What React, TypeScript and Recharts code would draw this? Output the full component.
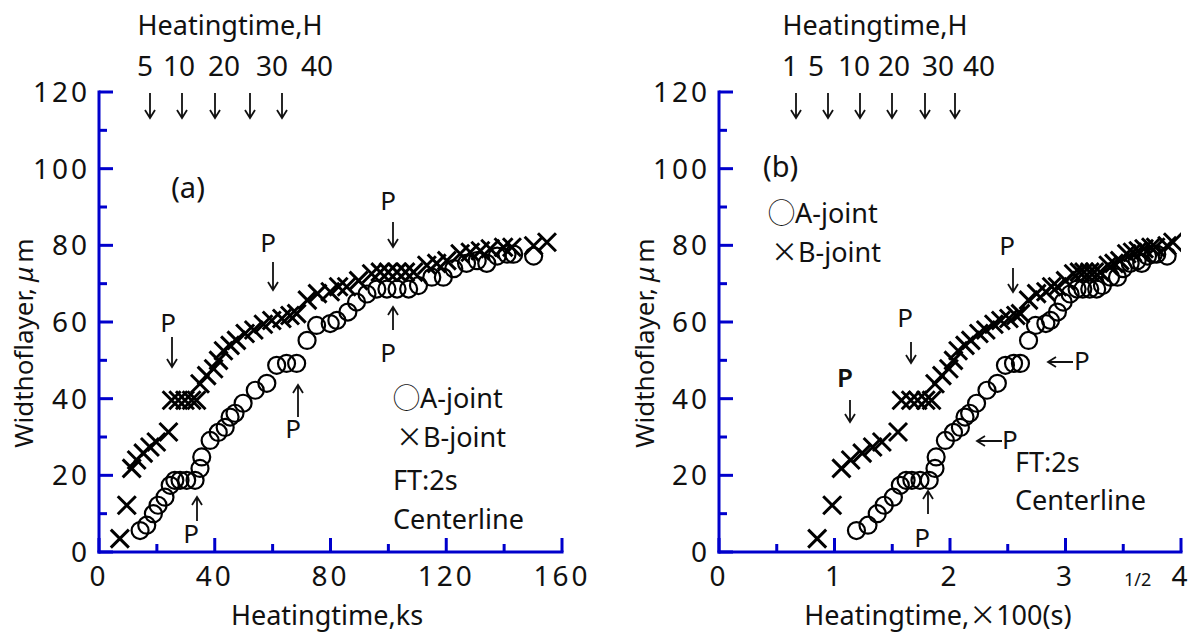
import React from "react";
import { ScatterChart, Scatter, XAxis, YAxis } from "recharts";

// A-joint (circles) and B-joint (crosses), heating time in ks, width in um
const aTimeKs = [
  14.2, 16.5, 18.8, 20.4, 22.8, 24.6, 26.2, 28, 30.3, 33.2, 34.9, 35.5, 38.4, 41.2, 43.6, 45.3, 47,
  49.8, 54, 58, 61.4, 64.8, 68.3, 71.9, 75.2, 79.9, 82.2, 86, 89, 92.6, 96, 99.5, 103, 107, 110.4,
  115, 119, 122.6, 127, 130.7, 134, 137.6, 141, 143.3, 150.2,
];
const aWidth = [
  5.6, 7, 10, 12.2, 14.3, 17.4, 18.7, 18.7, 18.7, 18.7, 21.8, 24.8, 29.1, 31.2, 32.5, 35.2, 36.2,
  38.8, 42.2, 44, 48.7, 49.2, 49.2, 55.2, 59.1, 59.6, 60.4, 62.6, 65.2, 67.3, 68.6, 68.6, 68.6, 68.6,
  69.5, 71.7, 71.7, 73.9, 75.3, 76, 75.3, 77.2, 77.7, 77.7, 77.2,
];
const bTimeKs = [
  7.2, 9.6, 11.3, 13, 15.3, 17.6, 19.8, 24, 25.1, 27.4, 29.7, 32, 33.7, 34.9, 37.2, 39.6, 41.3, 43,
  45.3, 47.5, 50.5, 53.5, 56.8, 59.7, 63.2, 66, 68.3, 72, 75.5, 79.9, 82.8, 85.6, 89.7, 94.2, 97.2,
  100, 103, 105.9, 108.7, 113.3, 116.7, 120.2, 124.8, 128.3, 131.8, 135.2, 139.8, 142.7, 150.2, 154.8,
];
const bWidth = [
  3.5, 12.2, 21.8, 24, 25.8, 27.4, 28.7, 31.3, 39.6, 39.6, 39.6, 39.6, 39.6, 43.9, 46, 47.8, 50,
  52.5, 53.9, 55.2, 57, 57.9, 59.4, 60.4, 60.9, 61.7, 62.2, 65.7, 67.4, 67.9, 69.2, 69.2, 70.8, 72.6,
  73, 73, 73, 73, 73, 74.8, 75.3, 76, 77.8, 78.2, 78.6, 79.1, 79.5, 79.5, 79.9, 80.8,
];

// same points on the square-root time axis, x100 s^1/2
const aTimeRoot = [
  1.19, 1.29, 1.37, 1.43, 1.51, 1.57, 1.62, 1.67, 1.74, 1.82, 1.87, 1.88, 1.96, 2.03, 2.09, 2.13,
  2.17, 2.23, 2.32, 2.41, 2.48, 2.55, 2.61, 2.68, 2.74, 2.83, 2.87, 2.93, 2.98, 3.04, 3.1, 3.15,
  3.21, 3.27, 3.32, 3.39, 3.45, 3.5, 3.56, 3.62, 3.66, 3.71, 3.76, 3.79, 3.88,
];
const bTimeRoot = [
  0.85, 0.98, 1.06, 1.14, 1.24, 1.33, 1.41, 1.55, 1.58, 1.66, 1.72, 1.79, 1.84, 1.87, 1.93, 1.99,
  2.03, 2.07, 2.13, 2.18, 2.25, 2.31, 2.38, 2.44, 2.51, 2.57, 2.61, 2.68, 2.75, 2.83, 2.88, 2.93,
  3.0, 3.07, 3.12, 3.16, 3.21, 3.25, 3.3, 3.37, 3.42, 3.47, 3.53, 3.58, 3.63, 3.68, 3.74, 3.78,
  3.88, 3.93,
];

const ksTicks = [0, 20, 40, 60, 80, 100, 120, 140, 160];
const rootTicks = [0, 0.5, 1, 1.5, 2, 2.5, 3, 3.5, 4];
const widthTicks = [0, 10, 20, 30, 40, 50, 60, 70, 80, 90, 100, 110, 120];
const hourLabelsA = ["5", "10", "20", "30", "40"];
const hourLabelsB = ["1", "5", "10", "20", "30", "40"];

const BLUE = "#0000cc";
const FONT = "'Noto Sans', 'Noto Sans CJK JP', sans-serif";
const CJK = "'Noto Sans CJK JP', 'Noto Sans', sans-serif";

const pts = (xs: number[], ys: number[]) => xs.map((x, i) => ({ x, y: ys[i] }));

const isMajor = (v: number, step: number) => Math.abs(v / step - Math.round(v / step)) < 1e-6;

const Ring = (p: any) => (
  <circle cx={p.cx} cy={p.cy} r={8.5} fill="none" stroke="#000" strokeWidth={2.2} />
);
const Cross = (p: any) => (
  <path
    d={`M${p.cx - 9},${p.cy - 9}L${p.cx + 9},${p.cy + 9}M${p.cx - 9},${p.cy + 9}L${p.cx + 9},${p.cy - 9}`}
    stroke="#000"
    strokeWidth={3}
  />
);

const bottomTick = (step: number) => (p: any) => {
  const v = p.payload.value;
  const major = isMajor(v, step);
  return (
    <g>
      <line x1={p.x} y1={p.y} x2={p.x} y2={p.y - (major ? 14 : 8)} stroke={BLUE} strokeWidth={3} />
      {major && (
        <text x={p.x} y={p.y + 34} textAnchor="middle" fontSize={28} fontFamily={FONT} letterSpacing={3} fill="#111">
          {v}
        </text>
      )}
    </g>
  );
};
const topTick = (step: number) => (p: any) => {
  const major = isMajor(p.payload.value, step);
  return <line x1={p.x} y1={p.y} x2={p.x} y2={p.y + (major ? 11 : 8)} stroke={BLUE} strokeWidth={3} />;
};
const leftTick = (p: any) => {
  const v = p.payload.value;
  const major = isMajor(v, 20);
  return (
    <g>
      <line x1={p.x} y1={p.y} x2={p.x + (major ? 14 : 8)} y2={p.y} stroke={BLUE} strokeWidth={3} />
      {major && (
        <text x={p.x - 9} y={p.y} dy="0.36em" textAnchor="end" fontSize={28} fontFamily={FONT} letterSpacing={3} fill="#111">
          {v}
        </text>
      )}
    </g>
  );
};
const rightTick = (p: any) => {
  const major = isMajor(p.payload.value, 20);
  return <line x1={p.x} y1={p.y} x2={p.x - (major ? 14 : 8)} y2={p.y} stroke={BLUE} strokeWidth={3} />;
};

const frame = { stroke: BLUE, strokeWidth: 3, strokeLinecap: "square" as const };

const Panel = ({
  width,
  yWidth,
  right,
  xTicks,
  xMax,
  xStep,
  a,
  b,
}: {
  width: number;
  yWidth: number;
  right: number;
  xTicks: number[];
  xMax: number;
  xStep: number;
  a: { x: number; y: number }[];
  b: { x: number; y: number }[];
}) => (
  <ScatterChart width={width} height={635} margin={{ top: 92, right, bottom: 0, left: 0 }}>
    <XAxis
      xAxisId="bottom"
      type="number"
      dataKey="x"
      domain={[0, xMax]}
      ticks={xTicks}
      interval={0}
      height={83}
      tickSize={0}
      tickMargin={0}
      tickLine={false}
      axisLine={frame}
      tick={bottomTick(xStep * 2)}
      allowDataOverflow
    />
    <XAxis
      xAxisId="top"
      orientation="top"
      type="number"
      dataKey="x"
      domain={[0, xMax]}
      ticks={xTicks}
      interval={0}
      height={0}
      tickSize={0}
      tickMargin={0}
      tickLine={false}
      axisLine={frame}
      tick={topTick(xStep * 2)}
      allowDataOverflow
    />
    <YAxis
      yAxisId="left"
      type="number"
      dataKey="y"
      domain={[0, 120]}
      ticks={widthTicks}
      interval={0}
      width={yWidth}
      tickSize={0}
      tickMargin={0}
      tickLine={false}
      axisLine={frame}
      tick={leftTick}
      allowDataOverflow
    />
    <YAxis
      yAxisId="right"
      orientation="right"
      type="number"
      dataKey="y"
      domain={[0, 120]}
      ticks={widthTicks}
      interval={0}
      width={0}
      tickSize={0}
      tickMargin={0}
      tickLine={false}
      axisLine={frame}
      tick={rightTick}
      allowDataOverflow
    />
    <Scatter xAxisId="bottom" yAxisId="left" data={a} shape={Ring} isAnimationActive={false} />
    <Scatter xAxisId="bottom" yAxisId="left" data={b} shape={Cross} isAnimationActive={false} />
  </ScatterChart>
);

const T = ({ x, y, size = 26, anchor = "start", children, weight }: any) => (
  <text x={x} y={y} fontSize={size} textAnchor={anchor} fontFamily={FONT} fontWeight={weight} fill="#111">
    {children}
  </text>
);

const Down = ({ x, y1, y2 }: { x: number; y1: number; y2: number }) => (
  <path d={`M${x},${y1}L${x},${y2}M${x - 5},${y2 - 8}L${x},${y2}L${x + 5},${y2 - 8}`} stroke="#111" strokeWidth={1.8} fill="none" />
);
const Up = ({ x, y1, y2 }: { x: number; y1: number; y2: number }) => (
  <path d={`M${x},${y2}L${x},${y1}M${x - 5},${y1 + 8}L${x},${y1}L${x + 5},${y1 + 8}`} stroke="#111" strokeWidth={1.8} fill="none" />
);
const Left = ({ x1, x2, y }: { x1: number; x2: number; y: number }) => (
  <path d={`M${x2},${y}L${x1},${y}M${x1 + 8},${y - 5}L${x1},${y}L${x1 + 8},${y + 5}`} stroke="#111" strokeWidth={1.8} fill="none" />
);

const Legend = ({ x, y }: { x: number; y: number }) => (
  <>
    <text x={x} y={y} fontSize={27} fontFamily={FONT} fill="#111">
      <tspan fontFamily={CJK}>◯</tspan>A-joint
    </text>
    <text x={x + 3} y={y + 39} fontSize={27} fontFamily={FONT} fill="#111">
      <tspan fontFamily={CJK}>×</tspan>B-joint
    </text>
  </>
);

export default function App() {
  const aLeft = pts(aTimeKs, aWidth);
  const bLeft = pts(bTimeKs, bWidth);
  const aRight = pts(aTimeRoot, aWidth);
  const bRight = pts(bTimeRoot, bWidth);
  const hourXA = [145, 179, 224, 272, 317];
  const hourXB = [790, 816, 854, 894, 938, 979];
  const arrowXA = [150, 182, 215, 250, 282];
  const arrowXB = [796, 828, 860, 892, 925, 955];

  return (
    <div style={{ position: "absolute", left: 0, top: 0, width: 1199, height: 635, background: "#fff" }}>
      <div style={{ position: "absolute", left: 0, top: 0 }}>
        <Panel width={600} yWidth={99} right={38} xTicks={ksTicks} xMax={160} xStep={20} a={aLeft} b={bLeft} />
      </div>
      <div style={{ position: "absolute", left: 600, top: 0 }}>
        <Panel width={599} yWidth={119} right={18} xTicks={rootTicks} xMax={4} xStep={0.5} a={aRight} b={bRight} />
      </div>
      <svg width={1199} height={635} style={{ position: "absolute", left: 0, top: 0, pointerEvents: "none" }}>
        {/* axis titles */}
        <text x={327} y={625} fontSize={27} textAnchor="middle" fontFamily={FONT} fill="#111">
          Heatingtime,ks
        </text>
        <text x={938} y={625} fontSize={27} textAnchor="middle" fontFamily={FONT} fill="#111">
          Heatingtime,<tspan fontFamily={CJK}>×</tspan>100(s)
        </text>
        <text x={1124} y={586} fontSize={18} fontFamily={FONT} fill="#111">
          1/2
        </text>
        {[24, 645].map((cx) => (
          <text key={cx} x={cx} y={343} transform={`rotate(-90 ${cx} 343)`} dy="0.35em" fontSize={26} textAnchor="middle" fontFamily={FONT} fill="#111">
            Widthoflayer,<tspan dx={6} fontStyle="italic">μ</tspan>
            <tspan dx={4}>m</tspan>
          </text>
        ))}
        <T x={230} y={35} size={27} anchor="middle">Heatingtime,H</T>
        <T x={875} y={35} size={27} anchor="middle">Heatingtime,H</T>
        {hourLabelsA.map((h, i) => (
          <T key={"a" + h} x={hourXA[i]} y={76} size={28} anchor="middle">{h}</T>
        ))}
        {hourLabelsB.map((h, i) => (
          <T key={"b" + h} x={hourXB[i]} y={76} size={28} anchor="middle">{h}</T>
        ))}
        {arrowXA.map((x) => (
          <Down key={"da" + x} x={x} y1={93} y2={118} />
        ))}
        {arrowXB.map((x) => (
          <Down key={"db" + x} x={x} y1={93} y2={118} />
        ))}

        {/* panel (a) notes */}
        <T x={188} y={198} size={29} anchor="middle">(a)</T>
        <T x={168} y={332} anchor="middle">P</T>
        <Down x={172} y1={337} y2={367} />
        <T x={268} y={252} anchor="middle">P</T>
        <Down x={273} y1={262} y2={290} />
        <T x={388} y={210} anchor="middle">P</T>
        <Down x={393} y1={222} y2={247} />
        <Up x={393} y1={307} y2={330} />
        <T x={388} y={362} anchor="middle">P</T>
        <Up x={298} y1={385} y2={417} />
        <T x={293} y={438} anchor="middle">P</T>
        <Up x={197} y1={497} y2={521} />
        <T x={191} y={543} anchor="middle">P</T>
        <Legend x={393} y={408} />
        <T x={393} y={490} size={27}>FT:2s</T>
        <T x={393} y={529} size={27}>Centerline</T>

        {/* panel (b) notes */}
        <T x={763} y={177} size={29}>(b)</T>
        <Legend x={768} y={223} />
        <T x={1007} y={255} anchor="middle">P</T>
        <Down x={1013} y1={268} y2={292} />
        <T x={905} y={327} anchor="middle">P</T>
        <Down x={911} y1={342} y2={363} />
        <T x={845} y={387} anchor="middle" weight={600}>P</T>
        <Down x={850} y1={400} y2={422} />
        <Left x1={1048} x2={1073} y={362} />
        <T x={1074} y={370}>P</T>
        <Left x1={977} x2={1002} y={441} />
        <T x={1002} y={449}>P</T>
        <T x={1015} y={472} size={27}>FT:2s</T>
        <T x={1015} y={510} size={27}>Centerline</T>
        <Up x={928} y1={491} y2={514} />
        <T x={922} y={547} anchor="middle">P</T>
      </svg>
    </div>
  );
}
